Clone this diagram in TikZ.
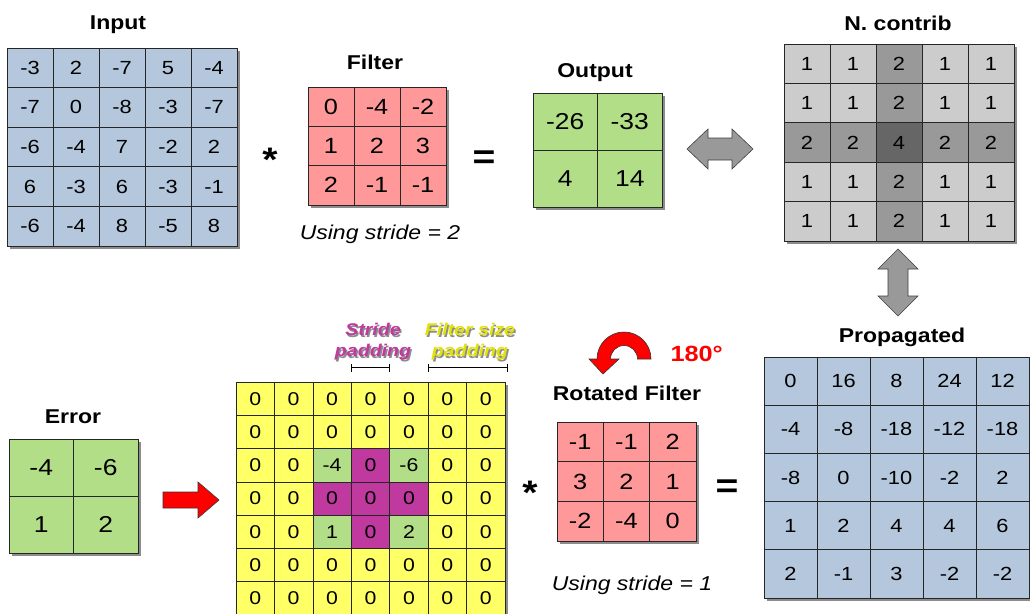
\documentclass[tikz,border=0pt]{standalone}
\usepackage{fontspec}
\setmainfont{Liberation Sans}[FakeStretch=1.15]
\usetikzlibrary{positioning,calc,backgrounds,arrows.meta}

\definecolor{inblue}{HTML}{B4C7DC}
\definecolor{fpink}{HTML}{FF9999}
\definecolor{ogreen}{HTML}{B2DE88}
\definecolor{padY}{HTML}{FFFF66}
\definecolor{padG}{HTML}{B2DE88}
\definecolor{padM}{HTML}{BF399F}
\definecolor{padtxt}{HTML}{E2E20A}
\definecolor{nc1}{HTML}{CCCCCC}
\definecolor{nc2}{HTML}{999999}
\definecolor{nc4}{HTML}{666666}

\begin{document}
\begin{tikzpicture}[
    x=1pt, y=-1pt,
    cell/.style={rectangle, draw=black!85, line width=0.7pt, inner sep=0pt},
    title/.style={anchor=base, font=\fontsize{20}{20}\selectfont\bfseries},
    note/.style={anchor=base, font=\fontsize{20}{20}\selectfont\itshape},
    bigop/.style={anchor=base, font=\fontsize{34}{34}\selectfont\bfseries},
    shadowbox/.style={fill=black!45},
    block/.style={draw=black!75, line width=0.6pt, fill=nc2},
    redblock/.style={draw=black!80, line width=0.6pt, fill=red},
    padlabel/.style={align=center, font=\fontsize{17}{21}\selectfont\bfseries\itshape},
    bracket/.style={arrows={Bar[width=8pt]-Bar[width=8pt]}, line width=0.8pt}
]
\useasboundingbox (0,0) rectangle (1030,613);

% forward pass
\node[title] (tin) at (118,29) {Input};
\foreach \row [count=\r] in {{-3,2,-7,5,-4},{-7,0,-8,-3,-7},{-6,-4,7,-2,2},{6,-3,6,-3,-1},{-6,-4,8,-5,8}}
  \foreach \v [count=\c] in \row
    \node[cell, fill=inblue, minimum width=46pt, minimum height=39.6pt, font=\fontsize{19}{19}\selectfont]
      (in-\r-\c) at ({7+(\c-0.5)*46},{48+(\r-0.5)*39.6}) {\v};

\node[bigop] (conv1) at (270,171) {*};

\node[title] (tfil) at (375,69) {Filter};
\foreach \row [count=\r] in {{0,-4,-2},{1,2,3},{2,-1,-1}}
  \foreach \v [count=\c] in \row
    \node[cell, fill=fpink, minimum width=46pt, minimum height=39.3pt, font=\fontsize{22}{22}\selectfont]
      (fil-\r-\c) at ({308+(\c-0.5)*46},{87+(\r-0.5)*39.3}) {\v};
\node[note] (st2) at (380,239) {Using stride = 2};

\node[bigop] (eq1) at (484,168) {=};

\node[title] (tout) at (595,77) {Output};
\foreach \row [count=\r] in {{-26,-33},{4,14}}
  \foreach \v [count=\c] in \row
    \node[cell, fill=ogreen, minimum width=64.5pt, minimum height=57pt, font=\fontsize{23}{23}\selectfont]
      (out-\r-\c) at ({533+(\c-0.5)*64.5},{93+(\r-0.5)*57}) {\v};

% neuron contributions
\node[title] (tnc) at (898,30) {N. contrib};
\foreach \row [count=\r] in {{1,1,2,1,1},{1,1,2,1,1},{2,2,4,2,2},{1,1,2,1,1},{1,1,2,1,1}}
  \foreach \v [count=\c] in \row
    \node[cell, fill=nc\v, minimum width=46pt, minimum height=39.4pt, font=\fontsize{19}{19}\selectfont]
      (nc-\r-\c) at ({784+(\c-0.5)*46},{44+(\r-0.5)*39.4}) {\v};

\draw[block] (687,149) -- (708,129) -- (708,138) -- (732,138) -- (732,129) -- (753,149)
  -- (732,169) -- (732,160) -- (708,160) -- (708,169) -- cycle;
\draw[block] (898,249) -- (918,269) -- (908,269) -- (908,296) -- (918,296) -- (898,316)
  -- (878,296) -- (888,296) -- (888,269) -- (878,269) -- cycle;

% backward pass
\node[title] (terr) at (73,423) {Error};
\foreach \row [count=\r] in {{-4,-6},{1,2}}
  \foreach \v [count=\c] in \row
    \node[cell, fill=ogreen, minimum width=64.5pt, minimum height=57pt, font=\fontsize{23}{23}\selectfont]
      (err-\r-\c) at ({9+(\c-0.5)*64.5},{439+(\r-0.5)*57}) {\v};

\draw[redblock] (163,492) -- (198,492) -- (198,482) -- (219,500) -- (198,518) -- (198,508) -- (163,508) -- cycle;

\foreach \row [count=\r] in {{Y/0,Y/0,Y/0,Y/0,Y/0,Y/0,Y/0},{Y/0,Y/0,Y/0,Y/0,Y/0,Y/0,Y/0},
    {Y/0,Y/0,G/-4,M/0,G/-6,Y/0,Y/0},{Y/0,Y/0,M/0,M/0,M/0,Y/0,Y/0},{Y/0,Y/0,G/1,M/0,G/2,Y/0,Y/0},
    {Y/0,Y/0,Y/0,Y/0,Y/0,Y/0,Y/0},{Y/0,Y/0,Y/0,Y/0,Y/0,Y/0,Y/0}}
  \foreach \k/\v [count=\c] in \row
    \node[cell, fill=pad\k, minimum width=38.43pt, minimum height=33.3pt, font=\fontsize{18.5}{18.5}\selectfont]
      (pad-\r-\c) at ({236+(\c-0.5)*38.43},{382+(\r-0.5)*33.3}) {\v};

\coordinate (sl) at ($(pad-1-4.north west)+(0,-14)$);
\coordinate (sr) at ($(pad-1-4.north east)+(0,-14)$);
\coordinate (fl) at ($(pad-1-6.north west)+(0,-14)$);
\coordinate (fr) at ($(pad-1-7.north east)+(2,-14)$);
\draw[bracket] (sl) -- (sr);
\draw[bracket] (fl) -- (fr);
\node[padlabel, text=black!45] (strS) at (374.5,343.5) {Stride\\padding};
\node[padlabel, text=padM] (str) at (373,342) {Stride\\padding};
\node[padlabel, text=black!45] (fszS) at (471.5,343.5) {Filter size\\padding};
\node[padlabel, text=padtxt] (fsz) at (470,342) {Filter size\\padding};

\node[bigop] (conv2) at (530,504) {*};

\fill[redblock] (651,359) arc[start angle=0, end angle=180, radius=27pt] -- (589,359) -- (603,374)
  -- (619,359) -- (610.5,359) arc[start angle=180, end angle=0, radius=13.5pt] -- cycle;
\node[anchor=base west, text=red, font=\fontsize{22}{22}\selectfont\bfseries] (rot) at (667,361) {180°};

\node[title] (trf) at (627,400) {Rotated Filter};
\foreach \row [count=\r] in {{-1,-1,2},{3,2,1},{-2,-4,0}}
  \foreach \v [count=\c] in \row
    \node[cell, fill=fpink, minimum width=46.3pt, minimum height=39.7pt, font=\fontsize{22}{22}\selectfont]
      (rf-\r-\c) at ({557+(\c-0.5)*46.3},{422+(\r-0.5)*39.7}) {\v};
\node[note] (st1) at (632,590) {Using stride = 1};

\node[bigop] (eq2) at (727,497) {=};

\node[title] (tprop) at (902,342) {Propagated};
\foreach \row [count=\r] in {{0,16,8,24,12},{-4,-8,-18,-12,-18},{-8,0,-10,-2,2},{1,2,4,4,6},{2,-1,3,-2,-2}}
  \foreach \v [count=\c] in \row
    \node[cell, fill=inblue, minimum width=53pt, minimum height=48.2pt, font=\fontsize{19}{19}\selectfont]
      (pr-\r-\c) at ({764+(\c-0.5)*53},{357+(\r-0.5)*48.2}) {\v};

% white page and drop shadows
\begin{scope}[on background layer]
  \fill[white] (0,0) rectangle (1030,613);
  \fill[shadowbox] ($(in-1-1.north west)+(3,3)$) rectangle ($(in-5-5.south east)+(3,3)$);
  \fill[shadowbox] ($(fil-1-1.north west)+(3,3)$) rectangle ($(fil-3-3.south east)+(3,3)$);
  \fill[shadowbox] ($(out-1-1.north west)+(3,3)$) rectangle ($(out-2-2.south east)+(3,3)$);
  \fill[shadowbox] ($(nc-1-1.north west)+(3,3)$) rectangle ($(nc-5-5.south east)+(3,3)$);
  \fill[shadowbox] ($(err-1-1.north west)+(3,3)$) rectangle ($(err-2-2.south east)+(3,3)$);
  \fill[shadowbox] ($(pad-1-1.north west)+(3,3)$) rectangle ($(pad-7-7.south east)+(3,3)$);
  \fill[shadowbox] ($(rf-1-1.north west)+(3,3)$) rectangle ($(rf-3-3.south east)+(3,3)$);
  \fill[shadowbox] ($(pr-1-1.north west)+(3,3)$) rectangle ($(pr-5-5.south east)+(3,3)$);
\end{scope}

\end{tikzpicture}
\end{document}
